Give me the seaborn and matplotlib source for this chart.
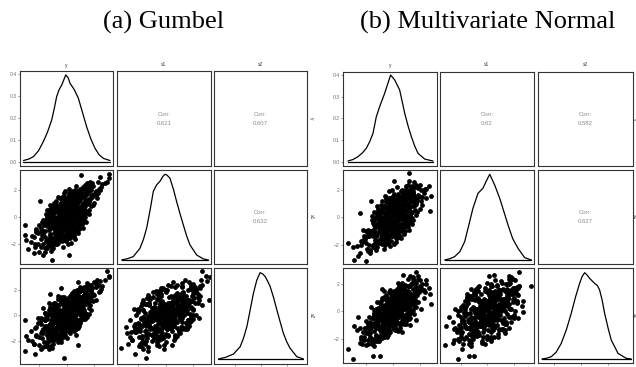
import matplotlib
matplotlib.use("Agg")
import matplotlib.pyplot as plt
import seaborn as sns
import pandas as pd

sns.set_style("white")
plt.rcParams["font.family"] = ["Liberation Sans", "DejaVu Sans"]

# ---------------- data ----------------
titles = ["(a) Gumbel", "(b) Multivariate Normal"]
var_names = ["y", "x1", "x2"]
# correlation labels for (y,x1), (y,x2), (x1,x2)
corr_gumbel = ["0.621", "0.607", "0.632"]
corr_mvn = ["0.62", "0.582", "0.627"]

density_ticks = [0.0, 0.1, 0.2, 0.3, 0.4]
value_ticks = [-2, 0, 2]

gumbel_y = [
    0.12, -0.45, 0.88, -1.20, 0.30, 1.45, -0.05, -0.70, 0.55, 2.10,
    -1.65, 0.02, 0.75, -0.30, 1.10, -2.20, 0.40, -0.95, 1.80, -0.15,
    0.65, -1.40, 0.20, 1.25, -0.55, 2.60, -0.85, 0.95, -0.25, 0.50,
    -1.90, 1.60, -0.40, 0.08, -1.05, 0.70, -2.60, 1.35, -0.60, 0.25,
    3.10, -0.10, 1.00, -1.30, 0.45, -0.75, 1.70, -0.20, 0.85, -1.55,
    0.15, -0.35, 1.20, -0.90, 2.35, 0.60, -1.10, 0.35, -0.50, 1.50,
    -2.00, 0.05, 0.90, -0.65, 1.15, -1.75, 0.28, -0.08, 1.95, -1.20,
    0.48, -0.28, 0.78, -0.82, 2.80, 0.18, -1.45, 1.05, -0.12, 0.62,
    -2.40, 1.40, -0.45, 0.32, -1.00, 0.95, -0.62, 1.65, -0.18, 0.42,
    -3.00, 2.25, -0.72, 0.10, 1.30, -1.60, 0.58, -0.38, 0.80, -1.25,
    0.00, 1.85, -0.52, 0.22, -0.88, 1.12, -2.10, 0.68, -0.15, 0.38,
    -1.35, 2.00, -0.68, 0.52, -0.02, 1.55, -1.80, 0.27, -0.42, 0.98,
    -1.15, 0.72, -0.58, 1.28, -2.80, 0.13, -0.32, 1.75, -0.95, 0.45,
    0.88, -0.22, -1.50, 0.60, 2.50, -0.78, 0.33, -0.05, 1.22, -1.70,
    0.70, -0.48, 0.17, -1.08, 1.48, -0.30, 0.82, -2.25, 0.07, 1.62,
    -0.65, 0.40, -1.25, 2.15, -0.12, 0.55, -0.85, 1.02, -0.40, 0.25,
    1.06, -3.00, -2.95, -1.10, 0.20, -1.96, 2.95, 3.10, 2.46, -2.32,
    -0.20, 0.82, -1.23, -0.38, 0.82, -2.37,
    0.00, 0.30, -0.50, 0.80, -1.00, 1.20, -0.20, 0.60, -0.80, 1.00,
    -1.40, 0.15, -0.35, 0.45, -0.65, 1.35, -1.20, 0.05, 0.95, -0.15,
    0.50, -0.90, 1.60, -1.60, 0.25, -0.45, 0.70, -0.05, 1.10, -1.05,
    0.35, -0.60, 0.90, -0.25, 1.45, -1.30, 0.10, -0.75, 0.55, -0.40,
    1.25, -1.50, 0.20, -0.10, 0.85, -0.95, 0.40, -0.30, 1.75, -1.85,
    0.65, -0.55, 0.00, 1.05, -1.15, 0.28, -0.70, 0.75, -0.20, 1.30,
    -1.00, 0.45, -0.35, 0.95, -1.45, 0.12, -0.80, 1.50, -0.05, 0.58,
    -1.25, 0.32, -0.48, 1.18, -1.70, 0.68, -0.18, 0.22, -0.62, 0.88,
    -1.10, 1.62, -0.28, 0.48, -0.92, 0.02, 1.38, -1.35, 0.72, -0.42,
    0.15, -0.15, 0.38, -0.58, 0.62, -0.78, 0.05, 0.92, -0.32, 0.25,
    -1.00, 0.55, -0.10, 1.15, -0.50, 0.18, -0.85, 0.78, -0.22, 0.42,
    -1.20, 0.30, -0.08, 0.68, -0.65, 1.00, -0.38, 0.10, -0.95, 0.50,
    0.20, -0.30, 0.70, -0.90, 1.10, -1.20, 0.40, -0.60, 1.30, -1.50,
    0.00, 0.90, -0.40, 1.60, -1.00, 0.50, -0.20, 1.20, -1.30, 0.30,
    -0.70, 0.80, -0.10, 1.40, -1.70, 0.60, -0.50, 1.00, -0.80, 0.10,
    -1.10, 1.50, -0.25, 0.45, -0.95, 1.25, -0.55, 0.75, -1.45, 0.15,
    -0.05, 0.95, -1.25, 0.35, -0.65, 1.35, -0.35, 0.65, -1.60, 0.55,
    -0.15, 1.05, -0.75, 0.25, -1.05, 1.70, -0.45, 0.85, -0.85, 0.05,
    1.15, -1.35, 0.40, -0.20, 0.70, -0.60, 1.45, -1.15, 0.30, -0.35,
    -1.80, 1.90, -0.20, 0.30, -2.10, 2.20, -1.40, 1.40, -0.60, 0.60,
    -2.30, 1.70, -1.00, 1.00, -0.30, 0.20, -1.60, 2.00, -0.80, 0.80,
    -2.50, 2.40, -1.20, 1.20, -0.10, 0.10, -1.90, 1.60, -0.50, 0.50,
    -2.00, 1.80, -1.30, 1.30, -0.70, 0.70, -1.50, 2.10, -0.90, 0.90,
    -1.70, 1.50, -0.40, 0.40, -2.20, 2.30, -1.10, 1.10, -0.30, 0.30,
    -1.45, 1.45, -0.65, 0.65, -1.85, 1.85, -0.95, 0.95, -0.15, 0.15,
]
gumbel_x1 = [
    0.35, -0.80, 0.60, -0.35, -0.15, 1.10, 0.40, -1.30, 0.95, 1.85,
    -0.60, -0.45, 0.30, 0.25, 1.55, -1.10, 0.80, -0.20, 1.60, -0.90,
    1.20, -1.75, -0.25, 0.70, 0.10, 2.45, -1.45, 0.45, -0.55, 0.15,
    -0.80, 1.90, -0.10, 0.60, -1.60, 0.95, -1.85, 0.85, -0.35, 0.70,
    2.90, -0.70, 1.35, -0.95, -0.40, -0.25, 1.30, 0.30, 1.10, -2.30,
    0.05, -1.05, 0.40, -0.50, 2.10, 0.20, -0.30, 1.05, -0.75, 1.75,
    -2.60, 0.50, 0.65, 0.35, 1.00, -1.25, -0.60, 0.15, 2.30, -1.90,
    0.55, -0.40, 1.45, -1.10, 2.55, 0.90, -0.70, 0.25, -0.20, 0.00,
    -1.50, 1.65, 0.55, 0.40, -0.85, 1.70, -1.50, 1.20, -0.30, 0.10,
    -1.30, 2.60, -0.05, -0.80, 1.15, -1.05, 0.75, -0.65, 0.35, -2.10,
    0.20, 1.45, 0.05, -0.10, -0.40, 0.90, -2.00, 1.30, 0.65, -0.35,
    -0.50, 1.70, -0.95, 0.45, -0.55, 2.05, -1.35, 0.85, -0.15, 0.55,
    -0.10, 0.25, -1.20, 1.50, -2.40, -0.35, 0.45, 2.20, -1.65, 0.30,
    1.25, -0.85, -0.25, 0.70, 2.20, -0.60, 0.05, -0.25, 0.55, -2.80,
    1.60, -0.45, 0.35, -0.70, 1.25, -1.35, 0.10, -0.95, 0.75, 0.95,
    -0.15, 0.60, -1.40, 1.95, 0.10, -0.20, -0.75, 1.40, -0.30, 0.25,
    3.10, -0.60, -1.70, -3.20, -2.85, 1.20, 2.60, 3.20, 2.94, -2.20,
    -1.40, 0.50, -0.30, -0.20, 0.46, -2.70,
    1.10, -1.20, 0.70, -0.50, 0.30, 0.10, -1.50, 1.70, -2.00, 2.00,
    -0.10, 0.90, 1.20, -0.90, -1.70, 0.30, 0.60, -1.10, 2.10, 0.95,
    -0.70, 0.90, 0.50, -0.40, 1.50, -1.30, -0.30, 1.40, 1.80, -2.20,
    -0.60, 0.50, -0.80, -0.15, 2.30, -1.60, -1.40, 0.80, 1.25, -0.25,
    -0.20, -0.50, 0.45, -0.95, 1.60, -1.20, 1.85, 0.05, 0.80, -1.00,
    -1.05, 0.25, -0.65, 0.35, -2.50, 1.30, -0.10, -0.05, 1.55, 1.05,
    -1.85, 0.20, -1.80, 0.65, 0.10, -0.35, 0.45, 2.50, -1.25, 0.85,
    -0.85, 1.00, -0.55, -0.40, -2.00, 1.95, 0.60, -1.55, -0.65, 0.25,
    0.20, 1.35, -0.75, 0.10, -1.55, 0.35, 1.85, -0.20, -0.55, 1.05,
    -0.05, 0.25, 0.55, -0.45, 0.40, -0.95, -0.30, 1.15, 0.15, -0.45,
    -0.60, 0.50, -0.10, 0.75, -1.00, 0.60, 0.00, 0.95, -0.40, 0.85,
    -1.25, -0.20, 0.50, 0.30, -1.10, 0.75, 0.35, -0.55, -0.30, 1.40,
    1.60, -1.70, -0.90, 0.60, -0.30, 0.40, 1.90, -1.90, 2.40, 0.20,
    -1.60, 1.70, 1.00, 0.20, -2.30, -1.10, 1.30, 2.20, -0.10, -1.30,
    0.90, -0.70, -1.40, 0.30, -0.20, 2.00, -1.40, -0.50, 0.70, 1.40,
    -2.40, 0.40, 1.15, -1.20, -2.00, 2.10, 0.85, -0.75, 0.05, 1.75,
    -1.75, 0.00, -0.15, 1.55, -1.60, 0.55, 0.75, 1.85, -2.60, -1.35,
    0.95, -0.15, -1.80, -0.85, 0.55, 2.60, -0.35, 1.95, 0.35, -1.20,
    0.10, -2.10, 1.20, -0.90, 1.50, 0.55, 1.20, -1.90, -1.00, 1.45,
    -0.40, 0.90, 1.80, -1.90, -1.20, 1.40, 0.50, -0.40, 1.50, -1.60,
    -2.00, 2.40, -0.10, 0.00, -2.20, 2.10, -1.50, 1.00, 1.20, -1.20,
    -1.40, 2.00, 0.90, -0.80, 1.95, -2.00, -2.20, 1.20, 1.40, -1.50,
    -0.60, 2.00, 0.20, 0.00, -2.00, 2.30, -1.80, 1.60, 1.00, -0.90,
    -1.00, 2.20, -1.70, 1.60, -0.90, 1.80, 0.70, -0.50, 1.30, -1.20,
    -2.30, 1.00, -0.30, 0.20, -1.60, 2.50, 0.40, -0.30, -1.30, 1.20,
]
gumbel_x2 = [
    -0.20, -0.10, 1.05, -1.60, 0.55, 1.30, 0.20, -0.25, 0.10, 2.25,
    -2.10, 0.65, 0.40, -0.85, 0.70, -0.90, 1.20, -0.55, 1.95, -0.40,
    0.25, -0.30, -0.60, 1.60, -1.05, 2.30, -1.20, 0.85, 0.35, 0.90,
    -1.40, 1.15, -0.30, -0.15, -0.75, 0.55, -1.20, 1.75, 0.15, 0.45,
    3.05, -0.95, 1.40, -2.00, 0.30, -1.35, 1.25, 0.75, 0.20, -0.85,
    0.15, 0.05, 0.95, -0.45, 1.80, -0.10, -0.65, 0.70, -0.80, 2.05,
    -1.70, 0.95, 0.35, -0.20, 0.60, -2.50, 0.05, -0.45, 1.65, -1.05,
    1.35, -1.20, 0.80, 0.30, 2.75, 0.35, -1.50, 0.50, 0.55, 0.75,
    -2.20, 1.00, -0.60, -0.35, -1.85, 1.20, -0.70, 2.20, -0.10, 0.60,
    -2.80, 2.40, -0.90, 0.25, 0.90, -0.40, 0.05, -0.25, 1.50, -1.30,
    -0.25, 1.55, 0.45, -0.85, -1.60, 1.25, -0.60, 0.90, 0.10, -0.05,
    -1.10, 2.60, 0.00, 0.20, -0.65, 1.35, -1.75, 0.55, -0.50, 1.10,
    -0.35, 0.65, -1.45, 0.45, -1.90, 0.40, -0.05, 1.85, -0.15, 0.85,
    0.65, -0.30, -0.95, -0.25, 2.05, -1.00, 0.00, 0.60, 1.45, -1.35,
    1.00, -0.15, -0.50, -0.20, 1.70, -0.75, 0.45, -1.55, 0.30, 1.50,
    -0.70, 0.15, -0.85, 2.45, -0.75, 0.80, -0.30, 0.85, -1.15, 0.50,
    1.20, -0.35, -1.60, -2.56, -0.90, -0.50, 3.50, 3.00, 2.70, -3.00,
    -3.30, 2.60, 1.67, 2.14, -2.30, -2.25,
    -0.90, 0.80, -1.60, 1.60, -0.10, 2.00, 0.90, -0.60, 0.40, 0.00,
    -2.30, 1.40, -0.20, -1.10, -1.80, 0.20, -0.70, 1.30, 1.90, -1.30,
    1.90, 0.60, 0.10, 0.20, -0.80, -0.05, -0.70, 0.80, -0.10, -1.00,
    1.70, 0.70, 0.55, -1.70, 0.95, 0.40, -0.50, -0.95, 1.85, 1.10,
    1.00, -2.40, -1.25, 0.25, -0.35, 0.95, 0.65, -1.45, 2.40, -0.20,
    0.15, 1.40, -1.80, -0.40, -1.30, 0.05, 0.80, 1.95, -0.55, -0.25,
    -2.20, -0.95, -0.90, 2.25, -1.05, 1.05, -0.30, 1.50, -0.30, -0.55,
    0.65, 1.60, -2.00, 0.35, -1.10, 0.50, -0.80, -0.20, 1.25, -0.60,
    -1.65, 0.55, 0.95, 0.40, -0.55, -0.95, 1.15, -1.75, 1.25, 0.25,
    0.00, 0.45, -0.15, -0.60, 0.70, -0.45, 0.60, 0.35, -0.40, 0.25,
    -1.20, 1.10, -0.85, 1.55, 0.30, 0.15, -0.50, 0.15, 0.10, 0.85,
    -0.65, -0.55, 0.50, 0.95, -1.10, 0.25, -0.95, -0.10, 0.10, 0.45,
    -0.60, 1.00, 1.80, -1.90, 2.10, 0.30, 1.50, -1.70, -0.20, -0.10,
    1.20, -0.80, -1.40, 2.40, 0.50, -0.90, 1.30, 0.00, -2.60, 1.60,
    0.70, -1.00, -1.50, 0.10, -0.30, 1.70, 0.90, 1.90, -1.80, -1.10,
    -1.90, 2.30, 0.95, -0.70, 0.40, 2.20, -1.60, 0.20, -2.10, 0.10,
    -0.20, 2.00, 0.45, -1.00, -2.10, 0.00, 1.45, -0.45, -0.40, 1.35,
    -1.20, 0.10, 0.75, -1.40, -0.40, 0.80, -1.85, 1.95, 0.95, 0.85,
    -0.25, 0.00, 1.75, 1.40, -1.05, -0.05, 2.55, -2.40, 0.00, -0.60,
    -1.20, 1.10, 0.60, -0.70, -0.20, 2.80, -0.80, 0.90, 0.20, 0.40,
    -1.00, 1.20, 0.90, -0.60, -1.30, 1.00, 0.20, 1.60, -1.10, 1.30,
    -2.00, 1.90, 0.10, 0.30, -0.30, 0.50, -0.70, 2.30, 1.20, -1.20,
    -2.30, 0.40, 1.00, 1.80, 0.30, 1.40, -2.40, 1.20, -0.20, -0.40,
    0.60, 2.00, -2.10, -0.40, -1.60, 2.40, -1.50, 1.20, -1.00, 1.40,
    -1.20, -0.10, 1.50, -1.50, -2.60, 2.10, -0.60, 2.00, 0.90, -0.90,
]

mvn_y = [
    0.10, -0.60, 0.95, -1.15, 0.35, 1.50, -0.20, -0.85, 0.60, 1.95,
    -1.70, 0.05, 0.70, -0.40, 1.20, -2.10, 0.45, -0.95, 1.75, -0.10,
    0.80, -1.35, 0.25, 1.05, -0.50, 2.30, -0.75, 0.90, -0.30, 0.55,
    -1.85, 1.40, -0.45, 0.15, -1.00, 0.65, -2.40, 1.30, -0.65, 0.30,
    0.00, -0.15, 1.10, -1.25, 0.40, -0.80, 1.65, -0.25, 0.85, -1.50,
    0.20, -0.35, 1.25, -0.90, 2.10, 0.50, -1.10, 0.30, -0.55, 1.55,
    -1.95, 0.08, 0.95, -0.70, 1.15, -1.60, 0.28, -0.05, 1.85, -1.20,
    0.48, -0.28, 0.75, -0.85, 2.50, 0.18, -1.40, 1.00, -0.12, 0.62,
    -2.20, 1.35, -0.45, 0.32, -1.00, 0.95, -0.62, 1.60, -0.18, 0.42,
    -2.70, 2.00, -0.72, 0.10, 1.30, -1.55, 0.58, -0.38, 0.80, -1.30,
    0.00, 1.80, -0.52, 0.22, -0.88, 1.12, -2.00, 0.68, -0.15, 0.38,
    -1.35, 1.90, -0.68, 0.52, -0.02, 1.50, -1.80, 0.27, -0.42, 0.98,
    -1.15, 0.72, -0.58, 1.28, -2.50, 0.13, -0.32, 1.70, -0.95, 0.45,
    0.88, -0.22, -1.50, 0.60, 2.40, -0.78, 0.33, -0.05, 1.22, -1.70,
    0.70, -0.48, 0.17, -1.08, 1.48, -0.30, 0.82, -2.25, 0.07, 1.62,
    -0.65, 0.40, -1.25, 2.15, -0.12, 0.55, -0.85, 1.02, -0.40, 0.25,
    1.22, 0.05, -3.40, -2.90, 2.80, 2.72, -1.65, -2.50, -3.00, 1.73,
    0.73, 2.85, 1.20, -1.50, -0.95, -2.60, -2.00, -0.80,
    0.00, 0.30, -0.50, 0.80, -1.00, 1.20, -0.20, 0.60, -0.80, 1.00,
    -1.40, 0.15, -0.35, 0.45, -0.65, 1.35, -1.20, 0.05, 0.95, -0.15,
    0.50, -0.90, 1.60, -1.60, 0.25, -0.45, 0.70, -0.05, 1.10, -1.05,
    0.35, -0.60, 0.90, -0.25, 1.45, -1.30, 0.10, -0.75, 0.55, -0.40,
    1.25, -1.50, 0.20, -0.10, 0.85, -0.95, 0.40, -0.30, 1.75, -1.85,
    0.65, -0.55, 0.00, 1.05, -1.15, 0.28, -0.70, 0.75, -0.20, 1.30,
    -1.00, 0.45, -0.35, 0.95, -1.45, 0.12, -0.80, 1.50, -0.05, 0.58,
    -1.25, 0.32, -0.48, 1.18, -1.70, 0.68, -0.18, 0.22, -0.62, 0.88,
    -1.10, 1.62, -0.28, 0.48, -0.92, 0.02, 1.38, -1.35, 0.72, -0.42,
    0.15, -0.15, 0.38, -0.58, 0.62, -0.78, 0.05, 0.92, -0.32, 0.25,
    -1.00, 0.55, -0.10, 1.15, -0.50, 0.18, -0.85, 0.78, -0.22, 0.42,
    -1.20, 0.30, -0.08, 0.68, -0.65, 1.00, -0.38, 0.10, -0.95, 0.50,
    -0.20, 0.30, -0.70, 0.90, -1.10, 1.20, -0.40, 0.60, -1.30, 1.50,
    0.00, -0.90, 0.40, -1.60, 1.00, -0.50, 0.20, -1.20, 1.30, -0.30,
    0.70, -0.80, 0.10, -1.40, 1.70, -0.60, 0.50, -1.00, 0.80, -0.10,
    1.10, -1.50, 0.25, -0.45, 0.95, -1.25, 0.55, -0.75, 1.45, -0.15,
    0.05, -0.95, 1.25, -0.35, 0.65, -1.35, 0.35, -0.65, 1.60, -0.55,
    0.15, -1.05, 0.75, -0.25, 1.05, -1.70, 0.45, -0.85, 0.85, -0.05,
    -1.15, 1.35, -0.40, 0.20, -0.70, 0.60, -1.45, 1.15, -0.30, 0.35,
    1.80, -1.90, 0.20, -0.30, 2.10, -2.20, 1.40, -1.40, 0.60, -0.60,
    2.30, -1.70, 1.00, -1.00, 0.30, -0.20, 1.60, -2.00, 0.80, -0.80,
    2.50, -2.40, 1.20, -1.20, 0.10, -0.10, 1.90, -1.60, 0.50, -0.50,
    2.00, -1.80, 1.30, -1.30, 0.70, -0.70, 1.50, -2.10, 0.90, -0.90,
    1.70, -1.50, 0.40, -0.40, 2.20, -2.30, 1.10, -1.10, 0.30, -0.30,
    1.45, -1.45, 0.65, -0.65, 1.85, -1.85, 0.95, -0.95, 0.15, -0.15,
]
mvn_x1 = [
    -0.25, -0.15, 1.30, -0.70, 0.80, 0.85, 0.35, -1.40, 0.20, 1.55,
    -1.10, 0.55, -0.10, -0.85, 1.70, -1.45, 0.10, -0.25, 1.10, -0.60,
    1.05, -1.90, -0.40, 0.60, 0.20, 1.80, -1.05, 0.40, -0.05, 0.95,
    -1.20, 1.95, -0.50, 0.70, -1.65, 0.55, -1.75, 0.75, -0.30, 0.45,
    0.15, -0.95, 1.40, -0.60, -0.20, -0.45, 1.25, 0.25, 1.20, -2.05,
    0.00, -0.75, 0.50, -0.65, 2.00, 0.30, -0.40, 1.10, -0.80, 1.60,
    -2.30, 0.45, 0.55, 0.30, 0.90, -1.30, -0.55, 0.20, 2.15, -1.75,
    0.60, -0.35, 1.50, -1.00, 2.05, 0.85, -0.85, 0.20, -0.15, 0.05,
    -1.60, 1.55, 0.50, 0.35, -0.80, 1.75, -1.45, 1.00, -0.30, 0.15,
    -2.10, 2.40, -0.10, -0.75, 1.10, -1.00, 0.80, -0.60, 0.30, -2.00,
    0.25, 1.35, 0.00, -0.15, -0.35, 0.95, -1.85, 1.25, 0.70, -0.30,
    -0.55, 1.65, -0.90, 0.40, -0.50, 1.95, -1.40, 0.90, -0.10, 0.60,
    -0.05, 0.20, -1.15, 1.45, -2.60, -0.30, 0.50, 2.25, -1.60, 0.25,
    1.30, -0.80, -0.20, 0.75, 2.10, -0.55, 0.10, -0.20, 0.50, -2.50,
    1.55, -0.40, 0.40, -0.65, 1.20, -1.30, 0.05, -0.90, 0.80, 0.90,
    -0.10, 0.65, -1.35, 1.50, 0.15, -0.15, -0.70, 1.45, -0.25, 0.30,
    3.28, 2.67, -1.90, -3.10, 0.44, 2.30, 1.23, 0.32, -2.20, 2.40,
    0.50, 1.60, 2.70, -1.35, -0.98, -2.85, -3.20, -1.20,
    -1.10, 1.20, -0.70, 0.50, -0.30, -0.10, 1.40, -1.00, 0.50, 2.10,
    -2.20, -0.90, -1.20, 0.90, 0.80, 0.30, -0.60, 1.10, -0.60, -0.95,
    0.70, -1.90, 2.20, 0.10, -1.50, 1.30, 0.30, -1.40, 0.00, -0.40,
    1.60, -0.50, 1.80, 0.15, 0.40, -2.00, 1.40, -0.80, -0.60, 0.85,
    1.70, -0.20, -0.45, 0.95, -0.20, 0.40, -1.25, -0.05, 1.10, -1.40,
    1.25, -0.25, 0.65, -0.35, -1.10, -1.30, 0.70, 1.50, -0.70, 0.35,
    -1.90, 1.05, 0.60, -0.15, -0.55, 0.50, -1.45, 1.80, 1.05, -0.50,
    0.35, -0.85, 0.30, 0.80, -1.00, -0.95, 0.75, 1.45, -1.65, 0.70,
    0.60, 0.55, -0.60, 0.05, -0.15, -0.80, 2.20, -1.70, 0.10, 0.65,
    0.20, -0.20, 0.60, -0.35, 0.45, -0.85, -0.35, 1.00, 0.10, -0.30,
    -0.75, 0.65, 0.05, 0.85, -1.05, 0.55, 0.05, 0.90, -0.45, 0.80,
    -1.30, -0.25, 0.45, 0.25, -1.15, 0.70, 0.30, -0.50, -0.25, 1.35,
    1.40, -1.50, 0.80, -0.60, 0.30, -0.40, -1.90, 1.90, -2.40, -0.20,
    1.60, -1.70, -1.00, -0.20, 2.30, 1.10, -1.30, -2.20, 0.10, 1.30,
    -0.90, 0.70, 1.40, -0.30, 0.20, -2.00, 1.40, 0.50, -0.70, -1.40,
    2.40, -0.40, -1.15, 1.20, 2.00, -2.10, -0.85, 0.75, -0.05, -1.75,
    1.75, 0.00, 0.15, -1.55, 1.60, -0.55, -0.75, -1.85, 2.60, 1.35,
    -0.95, 0.15, 1.80, 0.85, -0.55, -2.60, 0.35, -1.95, -0.35, 1.20,
    -0.10, 2.10, -1.20, 0.90, -1.50, -0.55, -1.20, 1.90, 1.00, -1.45,
    0.40, -0.90, -1.80, 1.90, 1.20, -1.40, -0.50, 0.40, -1.50, 1.60,
    2.00, -2.40, 0.10, 0.00, 2.20, -2.10, 1.50, -1.00, -1.20, 1.20,
    1.40, -2.00, -0.90, 0.80, -1.95, 2.00, 2.20, -1.20, -1.40, 1.50,
    0.60, -2.00, -0.20, 0.00, 2.00, -2.30, 1.80, -1.60, -1.00, 0.90,
    1.00, -2.20, 1.70, -1.60, 0.90, -1.80, -0.70, 0.50, -1.30, 1.20,
    2.30, -1.00, 0.30, -0.20, 1.60, -2.50, -0.40, 0.30, 1.30, -1.20,
]
mvn_x2 = [
    0.40, -0.95, 0.55, -0.40, 0.15, 1.20, -0.60, -0.55, 1.05, 1.40,
    -1.85, 0.30, 0.25, 0.10, 1.35, -1.20, 0.85, -1.30, 2.10, -0.20,
    0.40, -0.80, -0.35, 1.50, -0.45, 1.60, -1.50, 0.70, 0.45, 0.95,
    -0.95, 0.90, -0.15, -0.30, -1.05, 0.10, -2.05, 1.85, 0.20, 0.65,
    -0.05, -0.85, 1.00, -1.75, 0.35, -1.05, 0.85, 0.80, 0.30, -1.10,
    0.10, 0.05, 1.05, -0.35, 1.70, -0.20, -0.75, 0.60, -0.95, 2.00,
    -1.50, 1.00, 0.45, -0.15, 0.55, -2.20, 0.15, -0.50, 1.55, -0.85,
    1.30, -1.10, 0.75, 0.25, 2.30, 0.40, -1.45, 0.60, 0.60, 0.80,
    -1.90, 0.95, -0.55, -0.40, -1.80, 1.25, -0.65, 2.25, -0.15, 0.55,
    -1.40, 1.90, -0.90, 0.20, 0.85, -0.45, 0.00, -0.30, 1.45, -1.25,
    -0.30, 1.50, 0.40, -0.80, -1.55, 1.30, -0.70, 0.95, 0.05, -0.10,
    -1.05, 2.40, 0.05, 0.25, -0.60, 1.30, -1.70, 0.50, -0.55, 1.05,
    -0.30, 0.70, -1.40, 0.50, -2.30, 0.45, 0.00, 1.80, -0.10, 0.90,
    0.60, -0.25, -0.90, -0.20, 1.45, -0.95, 0.05, 0.65, 1.40, -1.30,
    1.05, -0.10, -0.45, -0.15, 1.65, -0.70, 0.50, -1.50, 0.35, 1.45,
    -0.65, 0.20, -0.80, 2.05, -0.70, 0.85, -0.25, 0.90, -1.10, 0.55,
    1.90, 0.80, -2.74, -1.06, 1.28, 1.70, 0.30, -1.20, -3.50, 2.94,
    2.70, 0.54, -0.07, -3.30, -3.30, -0.44, -2.50, 1.65,
    0.90, -0.80, 1.00, -0.60, -1.90, 0.40, -0.90, 1.30, -0.40, 1.40,
    -0.30, -1.40, 0.20, 1.60, -1.70, 2.00, 0.70, -1.30, -0.20, 1.30,
    -1.00, -0.60, 0.60, -1.00, 0.80, 0.05, 1.90, -0.80, 0.10, -2.20,
    0.25, -0.70, -0.40, 1.60, 0.60, 0.10, 0.50, 0.90, -0.85, -1.30,
    0.20, -0.50, 1.25, -0.25, 1.75, -1.40, -0.40, 1.45, 0.70, -2.40,
    -0.50, 0.90, 1.20, 0.30, -2.00, -0.15, 0.40, 1.65, -1.55, -0.10,
    0.30, 1.55, 0.75, -0.70, -0.40, -1.20, -1.25, 2.50, 0.35, 0.05,
    -0.90, 1.65, -1.90, -0.55, -1.60, 0.85, -0.65, 0.90, 0.15, 1.95,
    -1.10, 1.05, 0.85, -1.35, -0.60, 0.20, 0.80, -0.35, 1.20, -0.20,
    -0.25, 0.35, 0.20, -0.75, 0.85, -0.35, 0.55, 0.40, -0.45, 0.30,
    -1.15, 1.15, -0.90, 1.45, 0.35, 0.10, -0.40, 0.20, 0.15, 0.90,
    -0.60, -0.50, 0.55, 1.00, -1.05, 0.30, -0.90, -0.15, 0.15, 0.50,
    -0.80, 1.30, -1.90, 1.90, -2.20, -0.30, -1.50, 1.70, 0.20, 0.10,
    -1.20, 0.80, 1.40, -2.40, -0.50, 0.90, -1.30, 0.00, 2.60, -1.60,
    -0.70, 1.00, 1.50, -0.10, 0.30, -1.70, -0.90, -1.90, 1.80, 1.10,
    1.90, -2.30, -0.95, 0.70, -0.40, -2.20, 1.60, -0.20, 2.10, -0.10,
    0.20, -2.00, -0.45, 1.00, 2.10, 0.00, -1.45, 0.45, 0.40, -1.35,
    1.20, -0.10, -0.75, 1.40, 0.40, -0.80, 1.85, -1.95, -0.95, -0.85,
    0.25, 0.00, -1.75, -1.40, 1.05, 0.05, -2.55, 2.40, 0.00, 0.60,
    1.20, -1.10, -0.60, 0.70, 0.20, -2.10, 0.80, -0.90, -0.20, -0.40,
    1.00, -1.20, -0.90, 0.60, 1.30, -1.00, -0.20, -1.60, 1.10, -1.30,
    2.00, -1.90, -0.10, -0.30, 0.30, -0.50, 0.70, -2.30, -1.20, 1.20,
    2.30, -0.40, -1.00, -1.80, -0.30, -1.40, 2.40, -1.20, 0.20, 0.40,
    -0.60, -2.00, 2.10, 0.40, 1.60, -2.40, 1.50, -1.20, 1.00, -1.40,
    1.20, 0.10, -1.50, 1.50, 2.60, -2.10, 0.60, -2.00, -0.90, 0.90,
]

# diagonal density curves
gumbel_dens_y_x = [-3.15, -2.75, -2.42, -2.05, -1.70, -1.40, -1.09, -0.90, -0.73, -0.55, -0.36, -0.07,
                   0.10, 0.24, 0.55, 0.85, 1.15, 1.45, 1.75, 2.06, 2.35, 2.67, 3.15]
gumbel_dens_y = [0.005, 0.012, 0.023, 0.050, 0.092, 0.135, 0.191, 0.245, 0.298, 0.330, 0.351, 0.397,
                 0.385, 0.359, 0.330, 0.290, 0.225, 0.160, 0.105, 0.061, 0.032, 0.015, 0.005]
gumbel_dens_x1_x = [-3.17, -2.75, -2.33, -1.85, -1.60, -1.37, -1.10, -0.89, -0.65, -0.41, -0.20, -0.05,
                    0.10, 0.31, 0.55, 0.79, 1.03, 1.27, 1.51, 1.75, 2.23, 2.71, 3.07]
gumbel_dens_x1 = [0.0, 0.015, 0.039, 0.136, 0.240, 0.370, 0.600, 0.800, 0.877, 0.918, 0.975, 1.0,
                  0.990, 0.953, 0.830, 0.680, 0.540, 0.409, 0.280, 0.175, 0.058, 0.012, 0.0]
gumbel_dens_x2_x = [-3.26, -2.70, -2.11, -1.60, -1.35, -1.09, -0.85, -0.59, -0.33, -0.08, 0.12, 0.31,
                    0.50, 0.69, 0.95, 1.20, 1.45, 1.70, 1.95, 2.21, 2.72, 3.23]
gumbel_dens_x2 = [0.0, 0.020, 0.058, 0.143, 0.240, 0.375, 0.560, 0.761, 0.915, 1.0, 0.985, 0.954,
                  0.900, 0.838, 0.710, 0.568, 0.430, 0.297, 0.200, 0.124, 0.027, 0.0]

mvn_dens_y_x = [-3.38, -3.00, -2.63, -2.30, -2.00, -1.75, -1.50, -1.25, -1.00, -0.63, -0.38, -0.18,
                0.13, 0.50, 0.88, 1.13, 1.38, 1.63, 1.88, 2.38, 3.00]
mvn_dens_y = [0.003, 0.010, 0.023, 0.040, 0.062, 0.092, 0.131, 0.208, 0.254, 0.315, 0.362, 0.400,
              0.377, 0.331, 0.223, 0.165, 0.115, 0.072, 0.038, 0.012, 0.003]
mvn_dens_x1_x = [-3.20, -2.80, -2.45, -2.05, -1.70, -1.40, -1.08, -0.70, -0.33, -0.05, 0.18, 0.55,
                 0.93, 1.25, 1.55, 1.90, 2.30, 2.80, 3.30]
mvn_dens_x1 = [0.0, 0.015, 0.039, 0.100, 0.214, 0.400, 0.603, 0.778, 0.837, 0.930, 1.0, 0.875,
               0.720, 0.560, 0.409, 0.250, 0.136, 0.027, 0.0]
mvn_dens_x2_x = [-2.91, -2.55, -2.22, -1.85, -1.48, -1.10, -0.74, -0.42, -0.12, 0.05, 0.25, 0.45,
                 0.62, 0.99, 1.20, 1.36, 1.55, 1.73, 2.00, 2.22, 2.72, 3.33, 3.70]
mvn_dens_x2 = [0.0, 0.010, 0.027, 0.080, 0.181, 0.340, 0.529, 0.720, 0.876, 0.950, 1.0, 0.970,
               0.934, 0.876, 0.850, 0.799, 0.680, 0.529, 0.350, 0.220, 0.066, 0.008, 0.0]

# ---------------- layout (pixels) ----------------
W, H = 636, 367
fig = plt.figure(figsize=(W / 100, H / 100), dpi=100)

grids = [
    dict(title=titles[0], data=dict(y=gumbel_y, x1=gumbel_x1, x2=gumbel_x2), corr=corr_gumbel,
         dens=[(gumbel_dens_y_x, gumbel_dens_y), (gumbel_dens_x1_x, gumbel_dens_x1), (gumbel_dens_x2_x, gumbel_dens_x2)],
         cols=[(20, 113), (117, 211), (214, 307)], rows=[(71, 166), (170, 264), (268, 364)],
         xlims=[(-3.4, 3.37), (-3.5, 3.26), (-3.6, 3.5)],
         ylims=[(-0.02, 0.415), (-3.48, 3.48), (-3.8, 3.7)],
         diag_ylims=[None, (-0.047, 1.05), (-0.058, 1.054)],
         title_x=164, strip_x=311),
    dict(title=titles[1], data=dict(y=mvn_y, x1=mvn_x1, x2=mvn_x2), corr=corr_mvn,
         dens=[(mvn_dens_y_x, mvn_dens_y), (mvn_dens_x1_x, mvn_dens_x1), (mvn_dens_x2_x, mvn_dens_x2)],
         cols=[(343, 437), (440, 534), (538, 633)], rows=[(72, 166), (170, 264), (268, 363)],
         xlims=[(-3.75, 3.3), (-3.55, 3.5), (-3.2, 3.83)],
         ylims=[(-0.02, 0.414), (-3.43, 3.48), (-3.8, 3.2)],
         diag_ylims=[None, (-0.047, 1.05), (-0.046, 1.054)],
         title_x=488, strip_x=634.5),
]

tick_col = "#6e6e6e"
spine_col = "#333333"
corr_index = {(0, 1): 0, (0, 2): 1, (1, 2): 2}

for g in grids:
    df = pd.DataFrame(g["data"])
    for i, (r0, r1) in enumerate(g["rows"]):
        for j, (c0, c1) in enumerate(g["cols"]):
            ax = fig.add_axes([c0 / W, 1 - r1 / H, (c1 - c0) / W, (r1 - r0) / H])
            ax.set_facecolor("white")
            for sp in ax.spines.values():
                sp.set_visible(True)
                sp.set_color(spine_col)
                sp.set_linewidth(0.8)
                sp.set_zorder(5)
            ax.set_xlim(*g["xlims"][j])
            if i == j:
                dx, dy = g["dens"][i]
                sns.lineplot(x=dx, y=dy, ax=ax, color="black", linewidth=0.9, sort=False,
                             estimator=None, legend=False)
                sns.lineplot(x=[dx[0], dx[-1]], y=[0, 0], ax=ax, color="black", linewidth=0.9,
                             sort=False, estimator=None, legend=False)
                if i == 0:
                    ax.set_ylim(*g["ylims"][0])
                else:
                    ax.set_ylim(*g["diag_ylims"][i])
            elif i > j:
                sns.scatterplot(data=df, x=var_names[j], y=var_names[i], ax=ax, s=12,
                                color="black", linewidth=0, legend=False)
                ax.set_ylim(*g["ylims"][i])
            else:
                ax.set_ylim(0, 1)
                k = corr_index[(i, j)]
                ax.text(0.5, 0.545, "Corr:", transform=ax.transAxes, ha="center", va="center",
                        fontsize=4.3, color="#8c8c8c")
                ax.text(0.5, 0.45, g["corr"][k], transform=ax.transAxes, ha="center", va="center",
                        fontsize=4.3, color="#8c8c8c")
            ax.set_xlabel("")
            ax.set_ylabel("")
            # ticks
            if j == 0:
                if i == 0:
                    ax.set_yticks(density_ticks)
                    ax.set_yticklabels([f"{t:.1f}" for t in density_ticks])
                else:
                    ax.set_yticks(value_ticks)
                    ax.set_yticklabels(["\u22122", "0", "2"])
                ax.tick_params(axis="y", left=True, length=1.5, width=0.5, color=tick_col,
                               labelsize=3.7, labelcolor=tick_col, pad=0.8)
            else:
                ax.set_yticks([])
            if i == 2:
                ax.set_xticks(value_ticks)
                ax.set_xticklabels([])
                ax.tick_params(axis="x", bottom=True, length=1.5, width=0.5, color=tick_col)
            else:
                ax.set_xticks([])
            # strips
            if i == 0:
                fig.text((c0 + c1) / 2 / W, 1 - 65 / H, var_names[j], ha="center", va="center",
                         fontsize=3.5, color="#333333")
        fig.text(g["strip_x"] / W, 1 - (r0 + r1) / 2 / H, var_names[i], ha="center", va="center",
                 rotation=-90, fontsize=3.5, color="#333333")
    fig.text(g["title_x"] / W, 1 - 22 / H, g["title"], ha="center", va="center",
             fontsize=19, family=["Liberation Serif", "DejaVu Serif"], color="black")

fig.savefig("out.png", dpi=100, facecolor="white")
